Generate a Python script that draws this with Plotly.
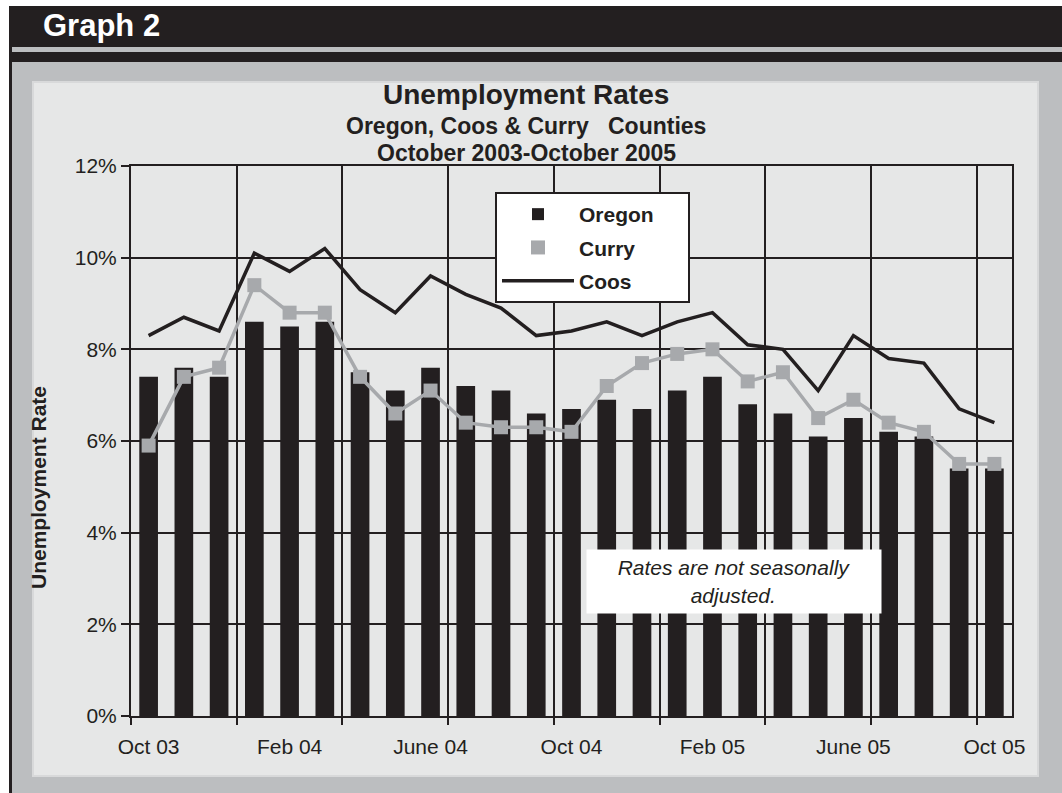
import plotly.graph_objects as go

# ---- data ----
months = ["Oct 03", "Nov 03", "Dec 03", "Jan 04", "Feb 04", "Mar 04", "Apr 04", "May 04",
          "June 04", "Jul 04", "Aug 04", "Sep 04", "Oct 04", "Nov 04", "Dec 04", "Jan 05",
          "Feb 05", "Mar 05", "Apr 05", "May 05", "June 05", "Jul 05", "Aug 05", "Sep 05", "Oct 05"]
oregon = [7.4, 7.6, 7.4, 8.6, 8.5, 8.6, 7.5, 7.1, 7.6, 7.2, 7.1, 6.6, 6.7,
          6.9, 6.7, 7.1, 7.4, 6.8, 6.6, 6.1, 6.5, 6.2, 6.1, 5.4, 5.4]
curry = [5.9, 7.4, 7.6, 9.4, 8.8, 8.8, 7.4, 6.6, 7.1, 6.4, 6.3, 6.3, 6.2,
         7.2, 7.7, 7.9, 8.0, 7.3, 7.5, 6.5, 6.9, 6.4, 6.2, 5.5, 5.5]
coos = [8.3, 8.7, 8.4, 10.1, 9.7, 10.2, 9.3, 8.8, 9.6, 9.2, 8.9, 8.3, 8.4,
        8.6, 8.3, 8.6, 8.8, 8.1, 8.0, 7.1, 8.3, 7.8, 7.7, 6.7, 6.4]
label_months = ["Oct 03", "Feb 04", "June 04", "Oct 04", "Feb 05", "June 05", "Oct 05"]
y_ticks = [0, 2, 4, 6, 8, 10, 12]

DARK = "#231f20"
GREY = "#a7a9ac"
PANEL = "#e6e7e7"
FRAME = "#bcbec0"
FONT = "Liberation Sans, Arial, sans-serif"

W, H = 1062, 793
L, R, T, B = 131, 1012, 166, 716

idx = list(range(len(months)))
label_pos = [months.index(m) for m in label_months]
grid_pos = [i - 0.5 for i in range(0, len(months), 3)]
PAD = "&nbsp;" * 5


def fx(px):
    return (px - L) / (R - L)


def fy(py):
    return (B - py) / (B - T)


fig = go.Figure()
fig.add_trace(go.Bar(x=idx, y=oregon, name="<b>Oregon</b>" + PAD,
                     marker=dict(color=DARK, line=dict(width=0)),
                     width=0.53, legendgroup="a"))
fig.add_trace(go.Scatter(x=idx, y=curry, name="Curry", mode="lines+markers",
                         line=dict(color=GREY, width=3.5),
                         marker=dict(symbol="square", size=14, color=GREY),
                         showlegend=False))
fig.add_trace(go.Scatter(x=[None], y=[None], name="<b>Curry</b>", mode="markers",
                         marker=dict(symbol="square", size=14, color=GREY), legendgroup="b"))
fig.add_trace(go.Scatter(x=idx, y=coos, name="<b>Coos</b>", mode="lines",
                         line=dict(color=DARK, width=3.5), legendgroup="c"))

shapes = [
    dict(type="rect", xref="paper", yref="paper", x0=fx(12), x1=fx(1062), y0=fy(62), y1=fy(793),
         fillcolor=FRAME, line=dict(width=0), layer="below"),
    dict(type="rect", xref="paper", yref="paper", x0=fx(9), x1=fx(12), y0=fy(6), y1=fy(793),
         fillcolor=DARK, line=dict(width=0), layer="below"),
    dict(type="rect", xref="paper", yref="paper", x0=fx(9), x1=fx(1062), y0=fy(6), y1=fy(47),
         fillcolor=DARK, line=dict(width=0), layer="below"),
    dict(type="rect", xref="paper", yref="paper", x0=fx(12), x1=fx(1062), y0=fy(47), y1=fy(52),
         fillcolor=FRAME, line=dict(width=0), layer="below"),
    dict(type="rect", xref="paper", yref="paper", x0=fx(9), x1=fx(1062), y0=fy(52), y1=fy(62),
         fillcolor=DARK, line=dict(width=0), layer="below"),
    dict(type="rect", xref="paper", yref="paper", x0=fx(33), x1=fx(1038), y0=fy(82), y1=fy(776),
         fillcolor=PANEL, line=dict(width=2, color="#d8d9da"), layer="below"),
]

annotations = [
    dict(text="<b>Graph 2</b>", xref="paper", yref="paper", x=fx(41), y=fy(25),
         xanchor="left", yanchor="middle", showarrow=False,
         font=dict(family=FONT, size=31, color="white")),
    dict(text="<b>Unemployment Rates</b>", xref="paper", yref="paper", x=fx(526), y=fy(95),
         xanchor="center", yanchor="middle", showarrow=False,
         font=dict(family=FONT, size=28, color=DARK)),
    dict(text="<b>Oregon, Coos &amp; Curry   Counties</b>", xref="paper", yref="paper",
         x=fx(526), y=fy(126), xanchor="center", yanchor="middle", showarrow=False,
         font=dict(family=FONT, size=23, color=DARK)),
    dict(text="<b>October 2003-October 2005</b>", xref="paper", yref="paper",
         x=fx(526), y=fy(153), xanchor="center", yanchor="middle", showarrow=False,
         font=dict(family=FONT, size=23, color=DARK)),
    dict(text="<b>Unemployment Rate</b>", xref="paper", yref="paper", x=fx(38), y=fy(488),
         xanchor="center", yanchor="middle", textangle=-90, showarrow=False,
         font=dict(family=FONT, size=21, color=DARK)),
    dict(text="<i>Rates are not seasonally<br>adjusted.</i>", xref="paper", yref="paper",
         x=fx(734), y=fy(581), xanchor="center", yanchor="middle", showarrow=False,
         width=292, height=61, bgcolor="white", borderpad=1,
         font=dict(family=FONT, size=21, color=DARK)),
]

fig.update_layout(
    width=W, height=H,
    margin=dict(l=L, r=W - R, t=T, b=H - B, pad=0),
    paper_bgcolor="white", plot_bgcolor="rgba(0,0,0,0)",
    barmode="overlay",
    shapes=shapes, annotations=annotations,
    font=dict(family=FONT, color=DARK, size=20),
    legend=dict(x=fx(495), y=fy(192), xanchor="left", yanchor="top",
                bgcolor="white", bordercolor=DARK, borderwidth=2,
                font=dict(family=FONT, size=21, color=DARK), tracegroupgap=3,
                itemwidth=72),
    xaxis=dict(range=[-0.5, len(months) - 0.5], tickmode="array", tickvals=label_pos,
               ticktext=label_months, ticks="", showgrid=False, zeroline=False,
               showline=True, linewidth=2, linecolor=DARK, mirror=True,
               ticklabelstandoff=11,
               tickfont=dict(family=FONT, size=21, color=DARK),
               minor=dict(tickmode="array", tickvals=grid_pos, ticks="outside", ticklen=7,
                          tickwidth=2, tickcolor=DARK, showgrid=True, gridcolor=DARK,
                          gridwidth=2)),
    yaxis=dict(range=[0, 12], tickmode="array", tickvals=y_ticks,
               ticktext=[f"{v}%" for v in y_ticks], ticks="outside", ticklen=8,
               tickwidth=2, tickcolor=DARK, showgrid=True, gridcolor=DARK, gridwidth=2,
               zeroline=False, showline=True, linewidth=2, linecolor=DARK, mirror=True,
               tickfont=dict(family=FONT, size=21, color=DARK)),
)

fig.write_html("out.html", config={"displayModeBar": False},
               post_script="document.body.style.margin='0';document.body.style.overflow='hidden';")
